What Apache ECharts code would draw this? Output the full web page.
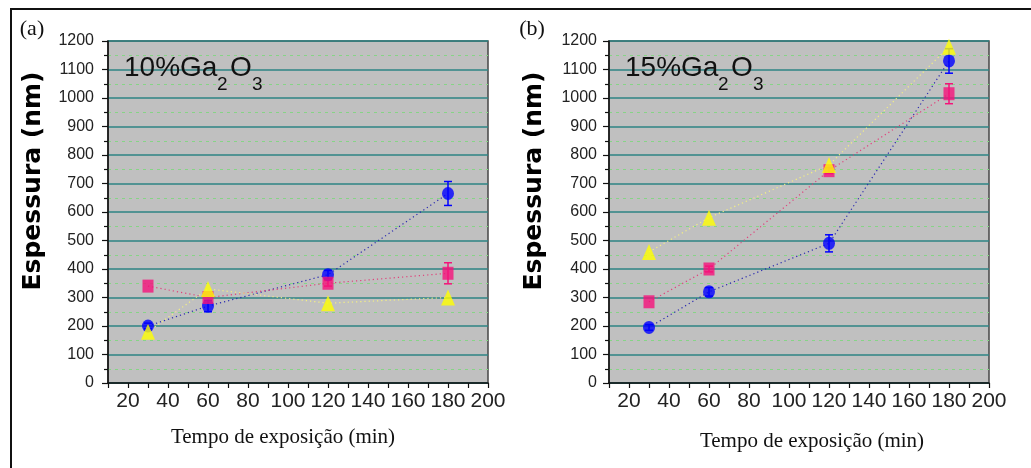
<!DOCTYPE html>
<html>
<head>
<meta charset="utf-8">
<script src="https://cdn.jsdelivr.net/npm/echarts@6/dist/echarts.min.js"></script>
<style>
html,body{margin:0;padding:0;background:#fff;}
#chart{width:1031px;height:468px;}
</style>
</head>
<body>
<div id="chart"></div>
<script>
// ---- data ----
const times = [30, 60, 120, 180];
// panel (a) 10% Ga2O3
const aBlue   = [200, 270, 380, 665];
const aPink   = [340, 300, 350, 385];
const aYellow = [180, 330, 280, 300];
const aBlueErr = [10, 20, 15, 42];
const aPinkErr = [0, 0, 10, 37];
// panel (b) 15% Ga2O3
const bBlue   = [195, 320, 490, 1130];
const bPink   = [285, 400, 745, 1015];
const bYellow = [460, 580, 765, 1180];
const bBlueErr = [10, 15, 30, 43];
const bPinkErr = [0, 10, 10, 35];
const panelLabels = ['(a)', '(b)'];
const compLabels = [['10%Ga', '2', 'O', '3'], ['15%Ga', '2', 'O', '3']];
const yTitle = 'Espessura (nm)';
const xTitle = 'Tempo de exposição (min)';

const BLUE = '#0000ff', PINK = '#f5127a', YEL = '#ffff00';

function pairs(vals){ return times.map((t,i)=>[t, vals[i]]); }
function errs(vals, e){ return times.map((t,i)=>[t, vals[i]-e[i], vals[i]+e[i]]).filter((d,i)=>e[i]>0); }
function errRender(color){
  return function(params, api){
    const x = api.value(0), lo = api.value(1), hi = api.value(2);
    const p1 = api.coord([x, hi]), p2 = api.coord([x, lo]);
    const w = 4;
    const st = {stroke: color, lineWidth: 1.5};
    return {type:'group', children:[
      {type:'line', shape:{x1:p1[0], y1:p1[1], x2:p2[0], y2:p2[1]}, style:st},
      {type:'line', shape:{x1:p1[0]-w, y1:p1[1], x2:p1[0]+w, y2:p1[1]}, style:st},
      {type:'line', shape:{x1:p2[0]-w, y1:p2[1], x2:p2[0]+w, y2:p2[1]}, style:st}
    ]};
  };
}

const grids = [
  {left:108, top:41, width:380, height:342},
  {left:609, top:41, width:380, height:342}
];
const labelMargins = [14, 12];

function xAxis(i){
  return {
    type:'value', gridIndex:i, min:10, max:200, interval:10,
    axisLine:{show:true, lineStyle:{color:'#111', width:1.5}},
    axisTick:{show:true, length:5, lineStyle:{color:'#111', width:1.2}},
    axisLabel:{color:'#222', fontFamily:'Liberation Sans', fontSize:21, margin:8,
      formatter: v => (v % 20 === 0 ? String(v) : '')},
    splitLine:{show:false}
  };
}
function yAxis(i){
  return {
    type:'value', gridIndex:i, min:0, max:1200, interval:100,
    axisLine:{show:true, lineStyle:{color:'#111', width:1.5}},
    axisTick:{show:true, length:6, lineStyle:{color:'#111', width:1.2}},
    minorTick:{show:true, splitNumber:2, length:4, lineStyle:{color:'#111', width:1.2}},
    axisLabel:{color:'#222', fontFamily:'Liberation Sans', fontSize:16, margin:labelMargins[i],
      formatter: v => String(v)},
    splitLine:{show:true, lineStyle:{color:'#2e8585', width:1.6}},
    minorSplitLine:{show:true, lineStyle:{color:'#86d486', width:1, type:[3,4]}}
  };
}

function panelSeries(i, blue, pink, yel, blueErr, pinkErr){
  const base = {xAxisIndex:i, yAxisIndex:i};
  const trend = (vals, color) => Object.assign({
    type:'line', data:pairs(vals), symbol:'none', silent:true, z:2,
    lineStyle:{color:color, width:1.2, type:[1.2,3]}
  }, base);
  return [
    trend(blue, '#2828b0'), trend(pink, '#e0407a'), trend(yel, '#f4f080'),
    Object.assign({type:'custom', data:errs(blue, blueErr), renderItem:errRender(BLUE), z:3}, base),
    Object.assign({type:'custom', data:errs(pink, pinkErr), renderItem:errRender(PINK), z:3}, base),
    Object.assign({type:'scatter', data:pairs(blue), symbol:'circle', symbolSize:[12,13],
      itemStyle:{color:BLUE}, z:4}, base),
    Object.assign({type:'scatter', data:pairs(pink), symbol:'rect', symbolSize:[11,13],
      itemStyle:{color:PINK}, z:5}, base),
    Object.assign({type:'scatter', data:pairs(yel), symbol:'triangle', symbolSize:[14,16],
      itemStyle:{color:YEL}, z:6}, base)
  ];
}

function compText(dx, parts){
  const f = 'Liberation Sans';
  return [
    {type:'text', x:124+dx, y:68, style:{text:parts[0], font:'28px "'+f+'"', fill:'#111', align:'left', verticalAlign:'middle'}, z:10},
    {type:'text', x:217+dx, y:85, style:{text:parts[1], font:'19px "'+f+'"', fill:'#111', align:'left', verticalAlign:'middle'}, z:10},
    {type:'text', x:230+dx, y:68, style:{text:parts[2], font:'28px "'+f+'"', fill:'#111', align:'left', verticalAlign:'middle'}, z:10},
    {type:'text', x:252+dx, y:85, style:{text:parts[3], font:'19px "'+f+'"', fill:'#111', align:'left', verticalAlign:'middle'}, z:10}
  ];
}

const chart = echarts.init(document.getElementById('chart'), null, {renderer:'canvas'});
chart.setOption({
  backgroundColor:'#ffffff',
  animation:false,
  grid: grids.map(g => Object.assign({show:true, backgroundColor:'#c0c0c0', borderColor:'#454545', borderWidth:1.5}, g)),
  xAxis:[xAxis(0), xAxis(1)],
  yAxis:[yAxis(0), yAxis(1)],
  series: [].concat(
    panelSeries(0, aBlue, aPink, aYellow, aBlueErr, aPinkErr),
    panelSeries(1, bBlue, bPink, bYellow, bBlueErr, bPinkErr)
  ),
  graphic: [
    {type:'rect', shape:{x:11, y:9, width:1060, height:500}, style:{fill:'none', stroke:'#111', lineWidth:2}, z:0, silent:true},
    {type:'text', x:32, y:29, style:{text:panelLabels[0], font:'22px "Liberation Serif"', fill:'#111', align:'center', verticalAlign:'middle'}},
    {type:'text', x:532, y:29, style:{text:panelLabels[1], font:'22px "Liberation Serif"', fill:'#111', align:'center', verticalAlign:'middle'}},
    {type:'text', x:33, y:181, rotation:Math.PI/2, style:{text:yTitle, font:'bold 25px "DejaVu Sans"', fill:'#000', align:'center', verticalAlign:'middle'}},
    {type:'text', x:534, y:181, rotation:Math.PI/2, style:{text:yTitle, font:'bold 25px "DejaVu Sans"', fill:'#000', align:'center', verticalAlign:'middle'}},
    {type:'text', x:283, y:437, style:{text:xTitle, font:'21px "Liberation Serif"', fill:'#111', align:'center', verticalAlign:'middle'}},
    {type:'text', x:812, y:441, style:{text:xTitle, font:'21px "Liberation Serif"', fill:'#111', align:'center', verticalAlign:'middle'}}
  ].concat(compText(0, compLabels[0]), compText(501, compLabels[1]))
});
</script>
</body>
</html>
